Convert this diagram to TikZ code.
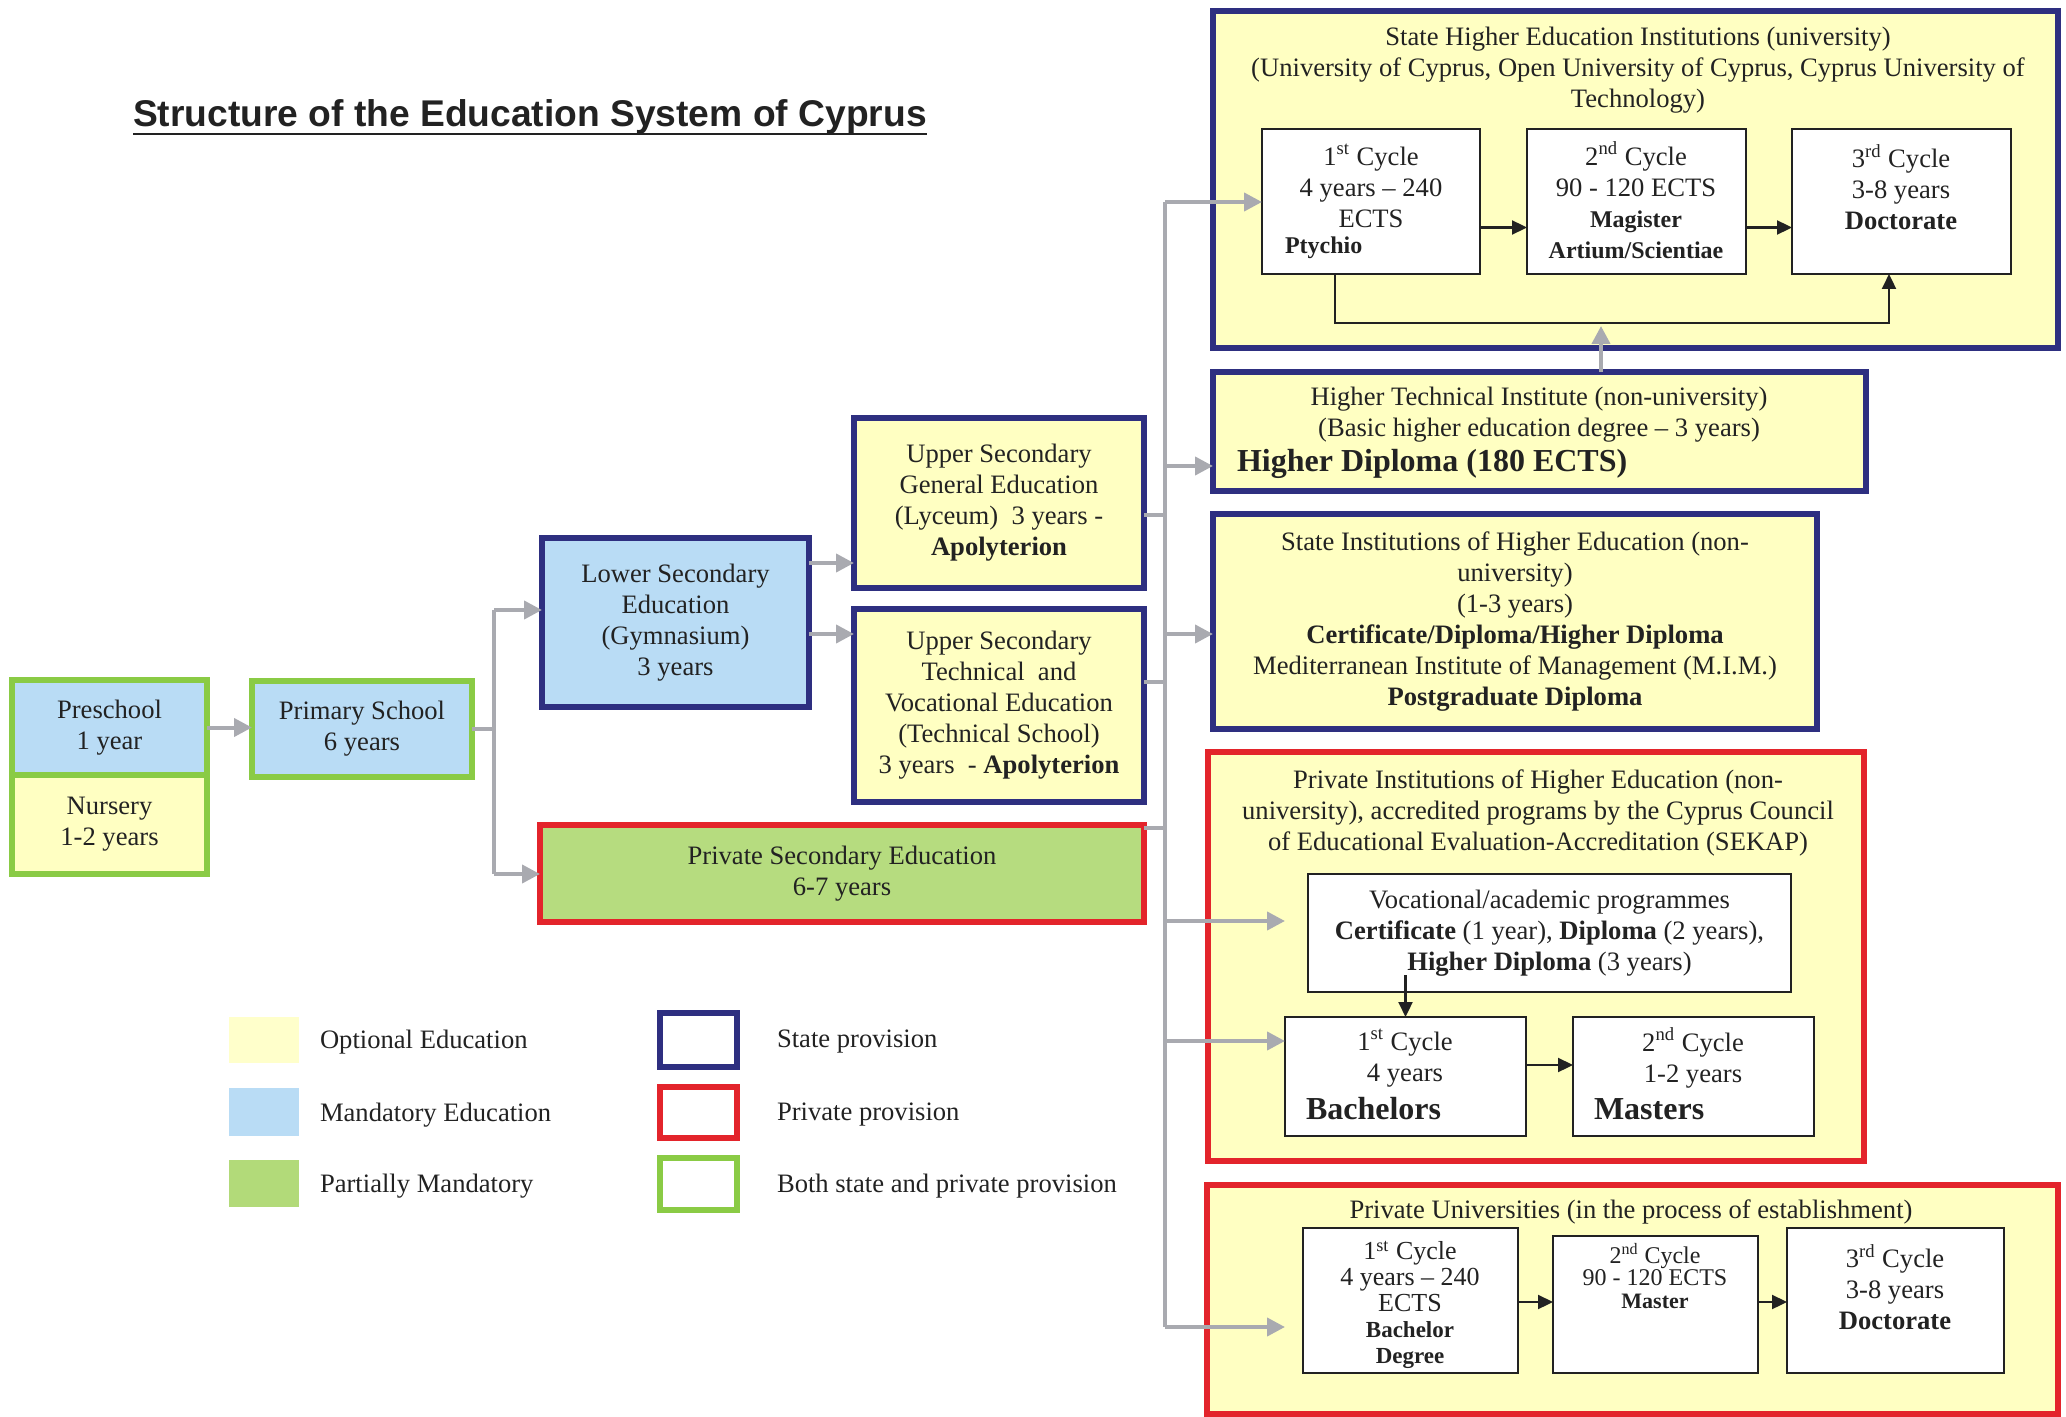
\documentclass[tikz,border=0pt]{standalone}
\usepackage{fontspec}
\setmainfont{Liberation Serif}
\newfontfamily\headfont{Liberation Sans}
\usetikzlibrary{arrows.meta}

\definecolor{optyellow}{HTML}{FFFFC2}
\definecolor{mandblue}{HTML}{B9DCF5}
\definecolor{partgreen}{HTML}{B6DC7F}
\definecolor{statenavy}{HTML}{2E2F80}
\definecolor{privred}{HTML}{E3242B}
\definecolor{bothgreen}{HTML}{8ACB45}
\definecolor{flowgray}{HTML}{A9AAB0}
\definecolor{inkdark}{HTML}{222222}

\newcommand\bodysize{\fontsize{13.3}{15.5}\selectfont}
\newcommand\bigbold{\fontsize{16}{18}\selectfont\bfseries}
% \pbox{name}{style}{x1}{y1}{x2}{y2}{text}: a box given by its corners (y grows downwards)
\newcommand\pbox[7]{\node[#2, minimum width={(#5-#3)*0.5pt}, minimum height={(#6-#4)*0.5pt}] (#1) at ({(#3+#5)/2},{(#4+#6)/2}) {#7};}

\begin{document}
\begin{tikzpicture}[x={(0.5pt,0)}, y={(0,-0.5pt)},
  every node/.style={inner sep=0pt, outer sep=0pt, font=\bodysize, text=inkdark},
  frame/.style={draw, line width=3pt, align=center},
  statebox/.style={frame, draw=statenavy, fill=optyellow},
  privbox/.style={frame, draw=privred, fill=optyellow},
  whitebox/.style={draw=inkdark, line width=1.2pt, fill=white, align=center},
  garrow/.style={draw=flowgray, line width=2pt, -{Triangle[length=9pt, width=9pt]}},
  gline/.style={draw=flowgray, line width=2pt},
  barrow/.style={draw=inkdark, line width=1.1pt, -{Triangle[length=7.5pt, width=7pt]}},
  txt/.style={align=center}
]
\useasboundingbox (0,0) rectangle (2066,1417);

% ---------- title ----------
\node[font={\headfont\bfseries\fontsize{18.6}{22}\selectfont}, anchor=base west] (title) at (133,127) {Structure of the Education System of Cyprus};
\draw[line width=1.4pt, inkdark] ([yshift=-3.5pt]title.base west) -- ([yshift=-3.5pt]title.base east);

% ---------- pre-primary, primary and secondary ----------
\pbox{pre}{frame, draw=bothgreen, fill=mandblue}{12}{680}{207}{775}{Preschool\\1 year}
\pbox{nur}{frame, draw=bothgreen, fill=optyellow}{12}{775}{207}{874}{Nursery\\1-2 years}
\pbox{pri}{frame, draw=bothgreen, fill=mandblue}{252}{681}{472}{777}{Primary School\\6 years}
\pbox{low}{frame, draw=statenavy, fill=mandblue}{542}{538}{809}{707}{Lower Secondary\\Education\\(Gymnasium)\\3 years}
\pbox{ug}{statebox}{854}{418}{1144}{588}{Upper Secondary\\General Education\\(Lyceum)\ \ 3 years -\\\textbf{Apolyterion}}
\pbox{ut}{statebox}{854}{609}{1144}{802}{Upper Secondary\\Technical\ \ and\\Vocational Education\\(Technical School)\\3 years\ \ - \textbf{Apolyterion}}
\pbox{ps}{frame, draw=privred, fill=partgreen}{540}{825}{1144}{922}{Private Secondary Education\\6-7 years}

% ---------- state universities ----------
\pbox{su}{statebox}{1213}{11}{2058}{348}{}
\node[txt] (sutitle) at (1638,70) {State Higher Education Institutions (university)\\(University of Cyprus, Open University of Cyprus, Cyprus University of\\Technology)};
\pbox{su1}{whitebox}{1262}{129}{1480}{274}{}
\pbox{su2}{whitebox}{1527}{129}{1746}{274}{}
\pbox{su3}{whitebox}{1792}{129}{2011}{274}{}
\node[txt] (su1t) at (1371,186) {1\textsuperscript{st} Cycle\\4 years – 240\\ECTS};
\node[anchor=west, font={\fontsize{12}{14}\selectfont\bfseries}] (su1d) at (1285,248) {Ptychio};
\node[txt] (su2t) at (1636,200) {2\textsuperscript{nd} Cycle\\90 - 120 ECTS\\{\fontsize{12}{14}\selectfont\bfseries Magister}\\{\fontsize{12}{14}\selectfont\bfseries Artium/Scientiae}};
\node[txt] (su3t) at (1901,187) {3\textsuperscript{rd} Cycle\\3-8 years\\\textbf{Doctorate}};

% ---------- higher technical institute ----------
\pbox{hti}{statebox}{1213}{372}{1866}{491}{}
\node[txt] (htit) at (1539,415) {Higher Technical Institute (non-university)\\(Basic higher education degree – 3 years)};
\node[anchor=west, font=\bigbold] (htid) at (1237,464) {Higher Diploma (180 ECTS)};

% ---------- state non-university institutions ----------
\pbox{si}{statebox}{1213}{514}{1817}{729}{State Institutions of Higher Education (non-\\university)\\(1-3 years)\\\textbf{Certificate/Diploma/Higher Diploma}\\Mediterranean Institute of Management (M.I.M.)\\\textbf{Postgraduate Diploma}}

% ---------- private non-university institutions ----------
\pbox{pi}{privbox}{1208}{752}{1864}{1161}{}
\node[txt] (pititle) at (1538,813) {Private Institutions of Higher Education (non-\\university), accredited programs by the Cyprus Council\\of Educational Evaluation-Accreditation (SEKAP)};
\pbox{voc}{whitebox}{1308}{874}{1791}{992}{Vocational/academic programmes\\\textbf{Certificate} (1 year), \textbf{Diploma} (2 years),\\\textbf{Higher Diploma} (3 years)}
\pbox{bach}{whitebox}{1285}{1017}{1526}{1136}{}
\pbox{mast}{whitebox}{1573}{1017}{1814}{1136}{}
\node[txt] (bacht) at (1405,1058) {1\textsuperscript{st} Cycle\\4 years};
\node[anchor=west, font=\bigbold] (bachd) at (1306,1109) {Bachelors};
\node[txt] (mastt) at (1693,1058) {2\textsuperscript{nd} Cycle\\1-2 years};
\node[anchor=west, font=\bigbold] (mastd) at (1594,1109) {Masters};

% ---------- private universities ----------
\pbox{pu}{privbox}{1207}{1185}{2058}{1414}{}
\node[txt] (putitle) at (1631,1212) {Private Universities (in the process of establishment)};
\pbox{pu1}{whitebox}{1303}{1228}{1518}{1373}{}
\pbox{pu2}{whitebox}{1553}{1236}{1758}{1373}{}
\pbox{pu3}{whitebox}{1787}{1228}{2004}{1373}{}
\node[txt, font={\fontsize{13}{13}\selectfont}] (pu1t) at (1410,1305) {1\textsuperscript{st} Cycle\\4 years – 240\\ECTS\\{\fontsize{11.5}{13}\selectfont\bfseries Bachelor}\\{\fontsize{11.5}{13}\selectfont\bfseries Degree}};
\node[txt, font={\fontsize{12}{11.3}\selectfont}] (pu2t) at (1655,1276) {2\textsuperscript{nd} Cycle\\90 - 120 ECTS\\{\fontsize{11}{11.3}\selectfont\bfseries Master}};
\node[txt] (pu3t) at (1895,1287) {3\textsuperscript{rd} Cycle\\3-8 years\\\textbf{Doctorate}};

% ---------- connectors inside the higher education boxes ----------
\draw[barrow] ([yshift=-13pt]su1.east) -- ([yshift=-13pt]su2.west);
\draw[barrow] ([yshift=-13pt]su2.east) -- ([yshift=-13pt]su3.west);
\draw[barrow] ([xshift=-18pt]su1.south) -- ++(0,49) -| ([xshift=-6.25pt]su3.south);
\coordinate (vocdrop) at ([yshift=8.5pt]voc.south -| bach.north);
\draw[barrow] (vocdrop) -- (bach.north);
\draw[barrow] ([yshift=5.75pt]bach.east) -- ([yshift=5.75pt]mast.west);
\draw[barrow] ([yshift=-0.75pt]pu1.east) -- ([yshift=-0.75pt]pu1.east -| pu2.west);
\draw[barrow] ([yshift=-0.75pt]pu1.east -| pu2.east) -- ([yshift=-0.75pt]pu1.east -| pu3.west);

% ---------- grey flow lines ----------
\draw[garrow] (pre.east) -- (pre.east -| pri.west);
\coordinate (ltop) at (494,610);
\coordinate (lbot) at (494,874);
\draw[gline] (pri.east) -- (pri.east -| ltop);
\draw[gline] (ltop) -- (lbot);
\draw[garrow] (ltop) -- (ltop -| low.west);
\draw[garrow] (lbot) -- (lbot -| ps.west);
\coordinate (lowa) at ([yshift=29.75pt]low.east);
\coordinate (lowb) at ([yshift=-5.75pt]low.east);
\draw[garrow] (lowa) -- (lowa -| ug.west);
\draw[garrow] (lowb) -- (lowb -| ut.west);

\coordinate (rtop) at (1165,202);
\coordinate (rbot) at (1165,1327);
\draw[gline] (rtop) -- (rbot);
\coordinate (ugout) at ([yshift=-6pt]ug.east);
\coordinate (utout) at ([yshift=11.75pt]ut.east);
\coordinate (psout) at ([yshift=-1.5pt]ps.north east);
\draw[gline] (ugout) -- (ugout -| rtop);
\draw[gline] (utout) -- (utout -| rtop);
\draw[gline] (psout) -- (psout -| rtop);
\coordinate (r2) at (1165,466);
\coordinate (r3) at (1165,634);
\coordinate (r4) at (1165,921);
\coordinate (r5) at (1165,1041);
\draw[garrow] (rtop) -- (rtop -| su1.west);
\draw[garrow] (r2) -- (r2 -| hti.west);
\draw[garrow] (r3) -- (r3 -| si.west);
\draw[garrow, shorten >=11.5pt] (r4) -- (r4 -| voc.west);
\draw[garrow] (r5) -- (r5 -| bach.west);
\draw[garrow, shorten >=9pt] (rbot) -- (rbot -| pu1.west);
\draw[garrow] ([xshift=30.75pt]hti.north) -- ++(0,-46);

% ---------- legend ----------
\pbox{lgopt}{fill=optyellow!85!white}{229}{1017}{299}{1063}{}
\pbox{lgmand}{fill=mandblue}{229}{1088}{299}{1136}{}
\pbox{lgpart}{fill=partgreen!90!bothgreen}{229}{1160}{299}{1207}{}
\node[anchor=west] (lgoptt) at (320,1042) {Optional Education};
\node[anchor=west] (lgmandt) at (320,1115) {Mandatory Education};
\node[anchor=west] (lgpartt) at (320,1186) {Partially Mandatory};
\pbox{lgstate}{frame, draw=statenavy, fill=white}{660}{1013}{737}{1067}{}
\pbox{lgpriv}{frame, draw=privred, fill=white}{660}{1087}{737}{1138}{}
\pbox{lgboth}{frame, draw=bothgreen, fill=white}{660}{1158}{737}{1210}{}
\node[anchor=west] (lgstatet) at (777,1042) {State provision};
\node[anchor=west] (lgprivt) at (777,1115) {Private provision};
\node[anchor=west] (lgbotht) at (777,1186) {Both state and private provision};
\end{tikzpicture}
\end{document}
